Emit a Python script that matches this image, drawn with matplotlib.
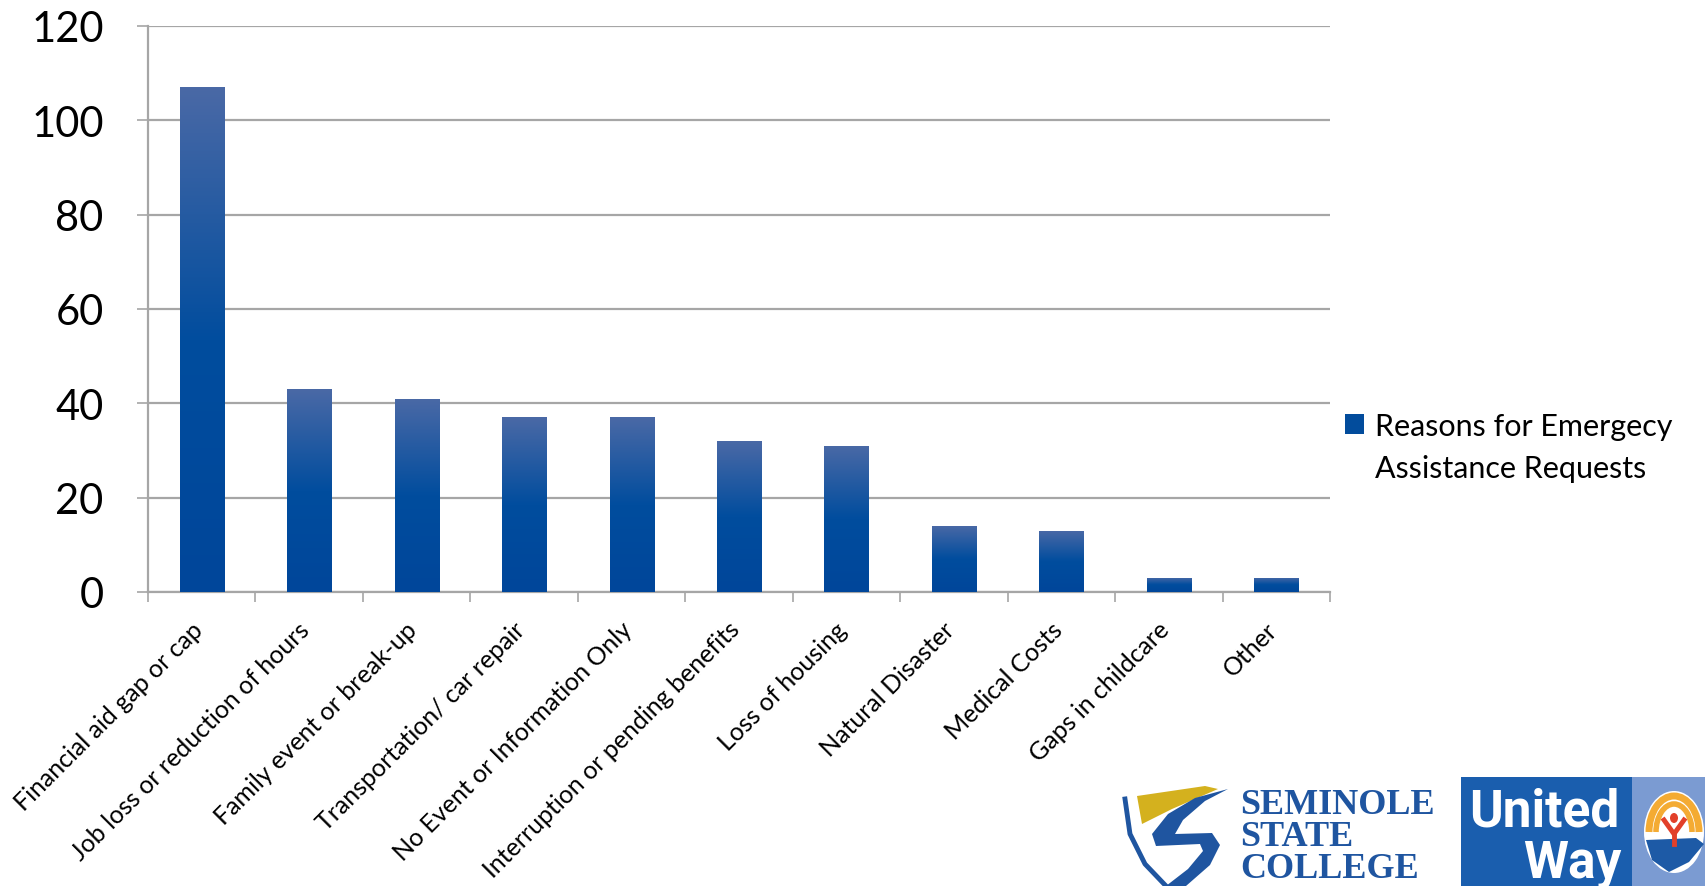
import matplotlib.pyplot as plt
import numpy as np
from matplotlib.colors import LinearSegmentedColormap
from matplotlib.patches import Rectangle, Polygon, Ellipse, Arc
from matplotlib.transforms import ScaledTranslation

plt.rcParams['font.family'] = ['Lato', 'DejaVu Sans']

# datos
categories = ["Financial aid gap or cap", "Job loss or reduction of hours",
              "Family event or break-up", "Transportation/ car repair",
              "No Event or Information Only", "Interruption or pending benefits",
              "Loss of housing", "Natural Disaster", "Medical Costs",
              "Gaps in childcare", "Other"]
values = [107, 43, 41, 37, 37, 32, 31, 14, 13, 3, 3]
series_line1 = "Reasons for Emergecy"
series_line2 = "Assistance Requests"
y_ticks = [0, 20, 40, 60, 80, 100, 120]

W, H = 1706, 887


def fx(x):
    # pixeles (desde arriba) -> coordenadas de figura
    return x / W


def fy(y):
    return 1 - y / H


fig = plt.figure(figsize=(W / 100, H / 100), dpi=100, facecolor='white')
ax = fig.add_axes([fx(148), fy(593), (1330 - 148) / W, (593 - 27) / H])

x = np.arange(len(categories))
bars = ax.bar(x, values, width=0.41, color='#024c9c', zorder=3,
              label=series_line1)

# degradado vertical dentro de cada barra
grad = LinearSegmentedColormap.from_list(
    'g', [(0, '#00469a'), (0.5, '#014d9e'), (1, '#4a69a6')])
img = np.linspace(0, 1, 256).reshape(-1, 1)
for b in bars:
    x0, w, h = b.get_x(), b.get_width(), b.get_height()
    im = ax.imshow(img, cmap=grad, origin='lower', aspect='auto',
                   extent=(x0, x0 + w, 0, h), zorder=4)
    im.set_clip_path(b)

ax.set_xlim(-0.5, len(categories) - 0.5)
ax.set_ylim(0, 120)
ax.set_yticks(y_ticks)
ax.yaxis.grid(True, color='#a6a6a6', linewidth=1.6, zorder=1)
ax.set_axisbelow(True)

for s in ['top', 'right']:
    ax.spines[s].set_visible(False)
for s in ['left', 'bottom']:
    ax.spines[s].set_color('#a6a6a6')
    ax.spines[s].set_linewidth(1.6)

ax.tick_params(axis='y', length=8, width=1.2, color='#a6a6a6',
               labelsize=30, pad=24)
ax.set_xticks(x)
ax.set_xticklabels(categories, rotation=45, ha='right', va='center',
                   rotation_mode='anchor', fontsize=18)
ax.tick_params(axis='x', which='major', length=0, pad=24)
shift = ScaledTranslation(-3 / 100, 0, fig.dpi_scale_trans)
for lab in ax.get_xticklabels():
    lab.set_transform(lab.get_transform() + shift)
ax.set_xticks(np.arange(-0.5, len(categories)), minor=True)
ax.tick_params(axis='x', which='minor', length=7, width=1.2, color='#a6a6a6')

# leyenda: el cuadro va con la primera linea, como en el original
leg = ax.legend(loc='center left', bbox_to_anchor=(fx(1318), fy(427)),
                bbox_transform=fig.transFigure, frameon=False, fontsize=22,
                handlelength=0.62, handleheight=0.62, handletextpad=0.35)
fig.canvas.draw()
bb = leg.get_texts()[0].get_window_extent()
fig.text(bb.x0 / W, (bb.y0 - 42) / H, series_line2, fontsize=22,
         ha='left', va='bottom')

# logo Seminole State College (aproximado)
blue = '#1f55a0'
fig.patches.append(Polygon([(fx(1137), fy(797)), (fx(1205), fy(787)),
                            (fx(1218), fy(790)), (fx(1172), fy(810)),
                            (fx(1142), fy(825))], closed=True,
                           transform=fig.transFigure, facecolor='#d4b11e',
                           edgecolor='none'))
swoosh = [(1228, 790), (1195, 799), (1168, 815), (1152, 835), (1156, 847),
          (1200, 845), (1203, 852), (1188, 870), (1166, 887), (1186, 887),
          (1210, 866), (1220, 846), (1212, 834), (1175, 835), (1183, 821),
          (1205, 802)]
fig.patches.append(Polygon([(fx(a), fy(b)) for a, b in swoosh], closed=True,
                           transform=fig.transFigure, facecolor=blue,
                           edgecolor='none'))
fig.lines.append(plt.Line2D([fx(1125), fx(1130), fx(1145), fx(1166)],
                            [fy(800), fy(835), fy(865), fy(887)],
                            transform=fig.transFigure, color=blue, lw=3.5))
for i, word in enumerate(["SEMINOLE", "STATE", "COLLEGE"]):
    fig.text(fx(1240), fy(806 + 32 * i), word, family='Liberation Serif',
             fontweight='bold', fontsize=26, color=blue, va='center',
             ha='left')

# logo United Way (aproximado)
fig.patches.append(Rectangle((fx(1461), 0), (1632 - 1461) / W, fy(778),
                             transform=fig.transFigure, facecolor='#1a5eae',
                             edgecolor='none'))
fig.patches.append(Rectangle((fx(1632), 0), (W - 1632) / W, fy(778),
                             transform=fig.transFigure, facecolor='#7b9bd2',
                             edgecolor='none'))
fig.text(fx(1469), fy(813), "United", fontsize=37, fontweight='bold',
         color='white', family='Roboto', va='center', ha='left')
fig.text(fx(1622), fy(864), "Way", fontsize=37, fontweight='bold',
         color='white', family='Roboto', va='center', ha='right')
cx, cy = 1674, H - 833
fig.patches.append(Ellipse((cx, cy), 60, 82, transform=None,
                           facecolor='white', edgecolor='none'))
for wd, ht, lw in [(50, 72, 5), (36, 56, 4)]:
    fig.patches.append(Arc((cx, cy), wd, ht, theta1=0, theta2=180,
                           transform=None, color='#f4ab33', lw=lw))
fig.patches.append(Polygon([(cx - 28, cy - 8), (cx + 22, cy - 6),
                            (cx + 30, cy - 12), (cx + 15, cy - 30),
                            (cx - 5, cy - 40), (cx - 22, cy - 28)],
                           closed=True, transform=None, facecolor='#1d5aa6',
                           edgecolor='none'))
fig.patches.append(Ellipse((cx, cy + 14), 8, 10, transform=None,
                           facecolor='#e2402a', edgecolor='none'))
fig.lines.append(plt.Line2D([cx - 10, cx, cx + 10], [cy + 12, cy - 2, cy + 12],
                            transform=None, color='#e2402a', lw=3.5))
fig.lines.append(plt.Line2D([cx, cx], [cy - 2, cy - 12],
                            transform=None, color='#e2402a', lw=3.5))

fig.savefig('out.png', dpi=100, facecolor='white')
